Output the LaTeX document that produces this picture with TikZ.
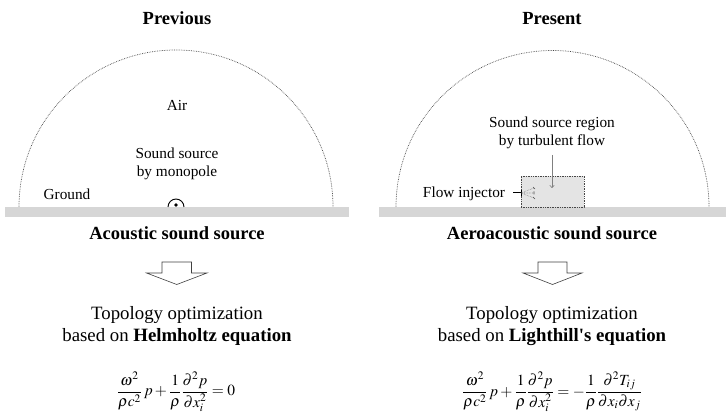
\documentclass[tikz,border=0pt]{standalone}
\usepackage{mathptmx}
\usepackage{fontspec}
\setmainfont{Liberation Serif}[Ligatures=TeXOff]
\usetikzlibrary{arrows.meta}
\definecolor{groundgray}{RGB}{214,214,214}
\definecolor{boxgray}{RGB}{228,228,228}
\definecolor{dotgray}{RGB}{70,70,70}
\tikzset{
  bigtxt/.style={font=\fontsize{18.8}{22}\selectfont, inner sep=0pt, anchor=base, align=center},
  bigbold/.style={font=\fontsize{18.5}{22}\selectfont\bfseries, inner sep=0pt, anchor=base},
  smalltxt/.style={font=\fontsize{15.3}{18.5}\selectfont, inner sep=0pt, anchor=base, align=center},
  eqnode/.style={font=\fontsize{15.5}{18}\selectfont, inner sep=0pt},
  domainarc/.style={densely dotted, line width=0.7pt, dotgray},
  groundbar/.style={fill=groundgray, draw=none},
  hollowarrow/.style={draw=black!75, line width=0.6pt, fill=white},
}
\begin{document}
\begin{tikzpicture}[x=1pt,y=-1pt]
\useasboundingbox (0,0) rectangle (728,419);
% ---------- left panel ----------
\node[bigbold] (prev) at (177,25) {Previous};
\draw[domainarc] (19,207) arc[start angle=180, end angle=360, radius=157];
\fill[groundbar] (5,207) rectangle (349,217);
\node[smalltxt] (air) at (177,111) {Air};
\node[smalltxt] (ss1) at (177,177) {Sound source\\by monopole};
\node[smalltxt] (gnd) at (67,200) {Ground};
\draw[line width=0.9pt] (184,207) arc[start angle=0, end angle=-180, radius=8];
\fill (176,205) circle[radius=1.9];
\node[bigbold] (aco) at (177,240) {Acoustic sound source};
\draw[hollowarrow] (162,262) -- (191.5,262) -- (191.5,273) -- (207,273) -- (176.75,284.5) -- (146.5,273) -- (162,273) -- cycle;
\node[bigtxt] (topo1) at (177,342) {Topology optimization\\based on \textbf{Helmholtz equation}};
\node[eqnode] (eq1) at (176,392) {$\displaystyle \frac{\omega^2}{\rho c^2}\,p+\frac{1}{\rho}\frac{\partial^2 p}{\partial x_i^2}=0$};
% ---------- right panel ----------
\node[bigbold] (pres) at (552,25) {Present};
\draw[domainarc] (396,207) arc[start angle=180, end angle=360, radius=156.5];
\fill[groundbar] (379,207) rectangle (726,217);
\node[smalltxt] (ss2) at (552,146) {Sound source region\\by turbulent flow};
\node[draw=dotgray, densely dotted, line width=0.7pt, fill=boxgray, minimum width=63pt, minimum height=31pt, inner sep=0pt] (box) at (552.5,191.5) {};
\coordinate (arrs) at (552,155);
\coordinate (arre) at (552,188);
\draw[gray, line width=0.6pt, -{To[length=3pt,width=5pt]}] (arrs) -- (arre);
\node[smalltxt] (flow) at (464,198) {Flow injector};
\coordinate (inj0) at (513,193);
\coordinate (inj1) at (521,193);
\draw[line width=1pt] (inj0) -- (inj1);
\draw[line width=0.7pt] (521,190) -- (521,196);
\draw[gray, densely dotted, line width=0.6pt] (inj1) -- (534,188) (inj1) -- (534,193) (inj1) -- (534,198);
\draw[black!70, line width=0.6pt] (533,187) -- (535,189) (533,197) -- (535,199) (534,191.5) -- (534,194.5);
\node[bigbold] (aero) at (552,240) {Aeroacoustic sound source};
\draw[hollowarrow] (538,262) -- (567,262) -- (567,273) -- (582,273) -- (552.5,284.5) -- (523,273) -- (538,273) -- cycle;
\node[bigtxt] (topo2) at (552,342) {Topology optimization\\based on \textbf{Lighthill's equation}};
\node[eqnode] (eq2) at (552,392) {$\displaystyle \frac{\omega^2}{\rho c^2}\,p+\frac{1}{\rho}\frac{\partial^2 p}{\partial x_i^2}=-\frac{1}{\rho}\frac{\partial^2 T_{ij}}{\partial x_i\partial x_j}$};
\end{tikzpicture}
\end{document}
